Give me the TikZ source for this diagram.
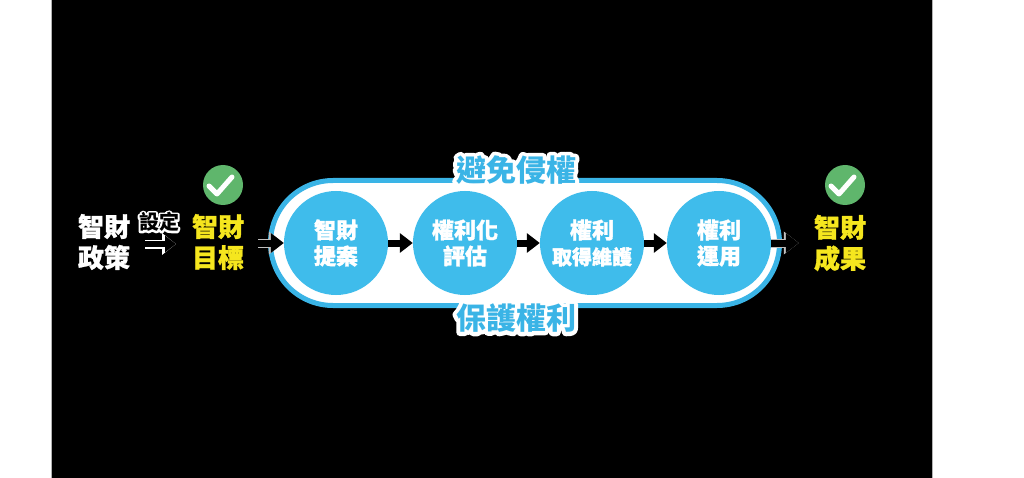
\documentclass[tikz,border=0pt]{standalone}
\usepackage{fontspec}
\usetikzlibrary{arrows.meta,shapes.misc}
\IfFontExistsTF{Noto Sans CJK TC Black}
  {\newfontfamily\cjk{Noto Sans CJK TC Black}}
  {\IfFontExistsTF{Noto Sans CJK TC Bold}
    {\newfontfamily\cjk{Noto Sans CJK TC Bold}}
    {\newfontfamily\cjk{Noto Sans CJK TC}[FakeBold=1.5]}}
\definecolor{skyblue}{RGB}{63,188,235}
\definecolor{rimblue}{RGB}{58,180,230}
\definecolor{okgreen}{RGB}{95,182,108}
\definecolor{goldyel}{RGB}{245,230,30}
% slightly heavier strokes: fill and stroke the glyphs in the same colour
\newcommand\heavyon{\special{pdf:literal direct 2 Tr 1 j 0.3 w}}
\newcommand\heavyoff{\special{pdf:literal direct 0 Tr}}
% text with an outline: a stroked copy beneath, the filled text on top
\newcommand\halonode[7]{%
  \node[txt,font=#3,text=#5] (#1halo) at (#2) {\special{pdf:literal direct 2 Tr 1 j 1 J #6 w}#7\heavyoff};
  \node[txt,font=#3,text=#4] (#1) at (#2) {#7};}
\tikzset{
  txt/.style={inner sep=0pt,align=center},
  stepcircle/.style={circle,fill=skyblue,minimum size=104pt,inner sep=0pt,text=white,align=center,
    font=\cjk\fontsize{22}{26}\selectfont},
  okcircle/.style={circle,fill=okgreen,minimum size=40pt,inner sep=0pt},
  checkmark/.style={white,line width=5pt,line cap=round,line join=round},
  flowarrow/.style={line width=7pt,draw=black,-{Triangle[length=13pt,width=19pt]}},
  edgearrow/.style={flowarrow,preaction={draw=#1,line width=9pt,-{Triangle[length=15pt,width=22pt]}}},
  smallarrow/.style={line width=6pt,draw=black,-{Triangle[length=11pt,width=16pt]},
    preaction={draw=white,line width=9pt,-{Triangle[length=14pt,width=21pt]}}},
}
\begin{document}
\begin{tikzpicture}[x=1pt,y=-1pt]
\useasboundingbox (0,0) rectangle (1024,478);
\fill[white] (0,0) rectangle (1024,478);
\fill[black] (52,0) rectangle (932,478);
\draw[gray!60,line width=1pt] (51.5,0) -- (51.5,478);
\draw[gray!60,line width=1pt] (932.5,0) -- (932.5,478);

% band
\node[rounded rectangle,draw=rimblue,line width=5pt,fill=white,minimum width=509pt,minimum height=125pt,inner sep=0pt] (band) at (525,243) {};

% steps
\node[stepcircle] (c1) at (336,243) {\heavyon 智財\\提案\heavyoff};
\node[stepcircle] (c2) at (465,243) {\heavyon 權利化\\評估\heavyoff};
\node[stepcircle] (c3) at (592,243) {\heavyon 權利\\{\fontsize{20}{26}\selectfont 取得維護}\heavyoff};
\node[stepcircle] (c4) at (719,243) {\heavyon 權利\\運用\heavyoff};

% labels on band
\halonode{top}{516,170}{\cjk\fontsize{30}{34}\selectfont}{rimblue}{white}{8}{避免侵權}
\halonode{bottom}{516,318}{\cjk\fontsize{30}{34}\selectfont}{rimblue}{white}{8}{保護權利}

% left side
\node[txt,font=\cjk\fontsize{26}{31}\selectfont,text=white] (policy) at (104,242) {\heavyon 智財\\政策\heavyoff};
\halonode{setlabel}{159,222}{\cjk\fontsize{20}{24}\selectfont}{black}{white}{4}{設定}
\node[txt,font=\cjk\fontsize{26}{31}\selectfont,text=goldyel] (goal) at (218,242) {\heavyon 智財\\目標\heavyoff};
\node[txt,font=\cjk\fontsize{26}{31}\selectfont,text=goldyel] (result) at (840,243) {\heavyon 智財\\成果\heavyoff};

% checks
\node[okcircle] (chk1) at (223,185) {};
\draw[checkmark] ([shift={(-14,1)}]chk1.center) -- ++(8,8) -- ++(15,-17);
\node[okcircle] (chk2) at (845,185) {};
\draw[checkmark] ([shift={(-14,1)}]chk2.center) -- ++(8,8) -- ++(15,-17);

% arrows
\coordinate (setA) at (145,244);
\coordinate (setB) at (176,244);
\draw[smallarrow] (setA) -- (setB);
\draw[edgearrow=white!75!black,shorten <=14pt] (goal.east |- c1) -- (c1.west);
\draw[flowarrow] (c1) -- (c2);
\draw[flowarrow] (c2) -- (c3);
\draw[flowarrow] (c3) -- (c4);
\draw[edgearrow=white!75!black,shorten >=15pt] (c4.east) -- (result.west |- c4);
\end{tikzpicture}
\end{document}
